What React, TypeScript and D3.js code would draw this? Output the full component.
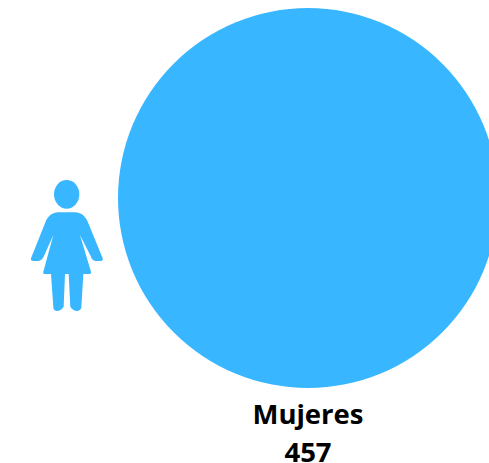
import React from "react";
import * as d3 from "d3";

const categories = ["Mujeres"];
const values = [457];
const WIDTH = 489;
const HEIGHT = 463;
const BLUE = "#38b6ff";

const FIGURE_BODY =
  "M115 127 L165 127 C185 128 198 140 205 160 L248 265 Q250 273 242 273 L225 273 Q215 270 212 258 L180 195 L213 305 Q214 312 207 312 L190 312 L184 412 Q183 422 172 423 Q160 423 151 410 L146 312 L135 312 L131 410 Q122 423 110 423 Q100 422 100 412 L93 312 L75 312 Q68 312 70 305 L100 195 L72 258 Q66 272 55 273 L40 273 Q31 273 33 265 L75 160 C82 140 95 128 115 127 Z";

export default function App() {
  const radius = d3.scaleSqrt().domain([0, 457]).range([0, 190]);
  const x = d3.scalePoint().domain(categories).range([308, 308]);
  const cy = 198;
  return (
    <svg
      width={WIDTH}
      height={HEIGHT}
      viewBox={`0 0 ${WIDTH} ${HEIGHT}`}
      style={{ position: "absolute", left: 0, top: 0, display: "block" }}
    >
      <rect width={WIDTH} height={HEIGHT} fill="#ffffff" />
      {categories.map((c, i) => (
        <g key={c}>
          <circle cx={x(c)} cy={cy} r={radius(values[i])} fill={BLUE} />
          <text
            x={x(c)}
            y={424}
            textAnchor="middle"
            fontFamily="'Open Sans', sans-serif"
            fontWeight={700}
            fontSize={27.5}
            fill="#000000"
          >
            {c}
          </text>
          <text
            x={x(c)}
            y={462}
            textAnchor="middle"
            fontFamily="'Open Sans', sans-serif"
            fontWeight={700}
            fontSize={27.5}
            fill="#000000"
          >
            {values[i]}
          </text>
        </g>
      ))}
      <g transform="translate(20,170) scale(0.3333)" fill={BLUE}>
        <ellipse cx={140} cy={73} rx={38} ry={43} />
        <path d={FIGURE_BODY} />
      </g>
    </svg>
  );
}
